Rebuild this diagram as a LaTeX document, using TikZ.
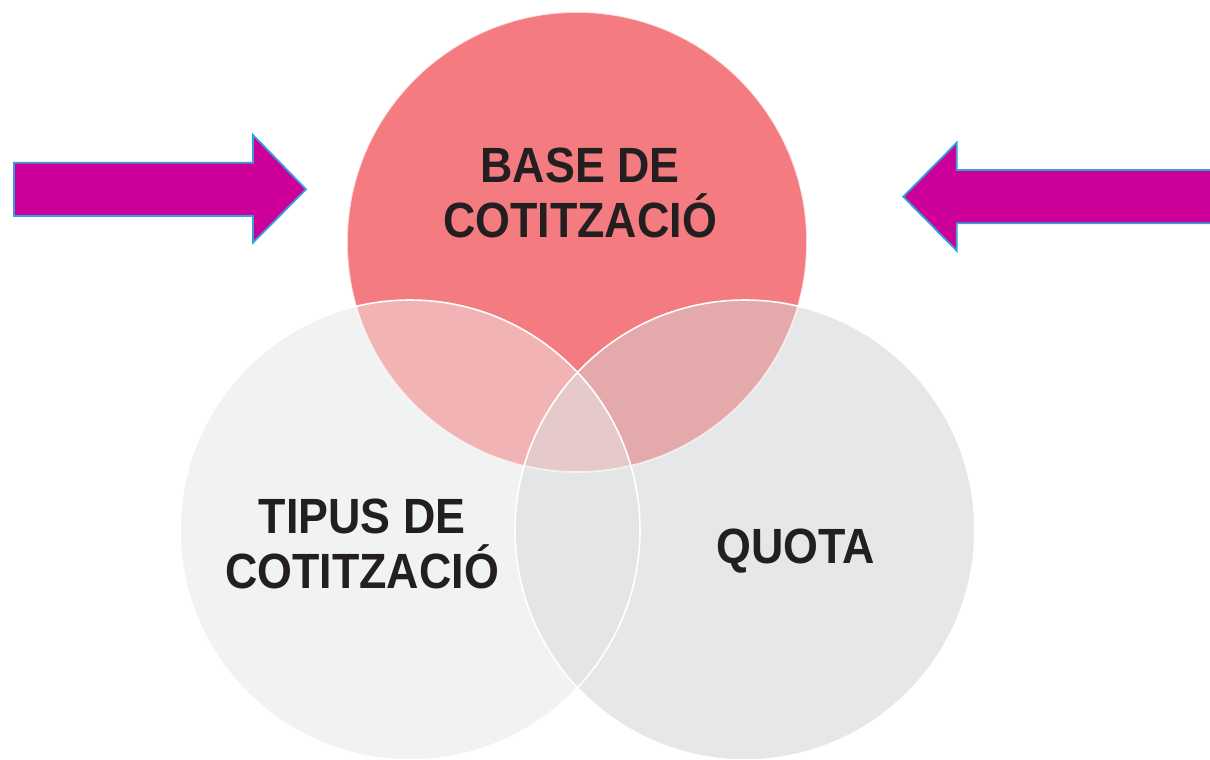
\documentclass[tikz,border=0pt]{standalone}
\usepackage{fontspec}
\setmainfont{Liberation Sans}[FakeStretch=0.905]
\definecolor{cRed}{HTML}{F47B80}
\definecolor{cLeft}{HTML}{F1F2F2}
\definecolor{cRight}{HTML}{E6E7E8}
\definecolor{cTL}{HTML}{F2B3B4}
\definecolor{cTR}{HTML}{E4A9AA}
\definecolor{cMid}{HTML}{E6C9CB}
\definecolor{cLR}{HTML}{E4E5E5}
\definecolor{cArrow}{HTML}{CC0099}
\definecolor{cArrowEdge}{HTML}{33A0E0}
\definecolor{cText}{HTML}{231F20}
\begin{document}
\begin{tikzpicture}[x=1pt,y=-1pt,
  label/.style={text=cText,font=\fontsize{49.5}{55}\selectfont\bfseries,align=center,inner sep=0pt},
  sep/.style={draw=white,line width=1.6pt},
  bigarrow/.style={fill=cArrow,draw=cArrowEdge,line width=1.8pt,line join=miter}]
\useasboundingbox (0,0) rectangle (1210,760);
\clip (0,0) rectangle (1210,760);
\coordinate (cT) at (577,242);
\coordinate (cL) at (410,530);
\coordinate (cR) at (745,530);
% base circles
\fill[cLeft] (cL) circle (230pt);
\fill[cRight] (cR) circle (230pt);
\fill[cRed] (cT) circle (230pt);
% overlaps
\begin{scope}\clip (cL) circle (230pt); \fill[cLR] (cR) circle (230pt);\end{scope}
\begin{scope}\clip (cT) circle (230pt); \fill[cTL] (cL) circle (230pt);\end{scope}
\begin{scope}\clip (cT) circle (230pt); \fill[cTR] (cR) circle (230pt);\end{scope}
\begin{scope}\clip (cT) circle (230pt); \clip (cL) circle (230pt); \fill[cMid] (cR) circle (230pt);\end{scope}
% separating outlines
\draw[sep,draw opacity=0.7] (cT) circle (230pt);
\draw[sep] (cL) circle (230pt);
\draw[sep] (cR) circle (230pt);
% arrows
\draw[bigarrow] (14,162.7) -- (253,162.7) -- (253,135) -- (306,189.3) -- (253,242.7) -- (253,216) -- (14,216) -- cycle;
\draw[bigarrow] (903.3,196.7) -- (956.7,142.7) -- (956.7,170) -- (1214,170) -- (1214,223.3) -- (956.7,223.3) -- (956.7,250.7) -- cycle;
% labels
\node[label] (base) at (580,193.2) {BASE DE\\COTITZACIÓ};
\node[label] (tipus) at (362,544.1) {TIPUS DE\\COTITZACIÓ};
\node[label,anchor=base] (quota) at (796,563) {QUOTA};
\end{tikzpicture}
\end{document}
